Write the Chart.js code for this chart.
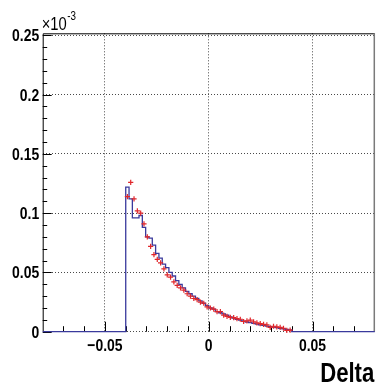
<!DOCTYPE html>
<html>
<head>
<meta charset="utf-8">
<script src="https://cdn.jsdelivr.net/npm/chart.js@4/dist/chart.umd.min.js"></script>
<style>
  html, body { margin: 0; padding: 0; background: #ffffff; }
  canvas { display: block; }
</style>
</head>
<body>
<canvas id="c" width="380" height="385"></canvas>
<script>
// Delta distribution, 50 bins from -0.04 to 0.04 (heights in units of 1e-3)
const binLow = -0.04;
const binWidth = 0.0016;

const simHeights = [
  0.122, 0.112, 0.096, 0.096, 0.098, 0.088, 0.080, 0.079, 0.073, 0.066,
  0.062, 0.057, 0.054, 0.050, 0.047, 0.043, 0.040, 0.037, 0.034, 0.032,
  0.030, 0.028, 0.026, 0.024, 0.022, 0.020, 0.019, 0.017, 0.016, 0.015,
  0.014, 0.0125, 0.0115, 0.0105, 0.0098, 0.0090, 0.0082, 0.0076, 0.0070, 0.0064,
  0.0058, 0.0053, 0.0047, 0.0042, 0.0038, 0.0034, 0.0029, 0.0025, 0.0020, 0.0015
];

const measHeights = [
  0.114, 0.126, 0.112, 0.102, 0.100, 0.091, 0.080, 0.072, 0.065, 0.061,
  0.058, 0.053, 0.048, 0.046, 0.042, 0.039, 0.037, 0.035, 0.032, 0.030,
  0.028, 0.027, 0.025, 0.024, 0.021, 0.020, 0.019, 0.017, 0.017, 0.014,
  0.013, 0.012, 0.0118, 0.0110, 0.0105, 0.0086, 0.0092, 0.0098, 0.0084, 0.0074,
  0.0068, 0.0062, 0.0057, 0.0036, 0.0046, 0.0040, 0.0037, 0.0029, 0.0012, 0.0014
];

const xRange = [-0.08, 0.08];
const yRange = [0, 0.2517];
const xTickValues = [-0.05, 0, 0.05];
const xTickLabels = ['\u22120.05', '0', '0.05'];
const yTickValues = [0, 0.05, 0.1, 0.15, 0.2, 0.25];
const yTickLabels = ['0', '0.05', '0.1', '0.15', '0.2', '0.25'];
const minorStep = 0.01;
const xTitle = 'Delta';

const FONT = "'Liberation Sans', Arial, sans-serif";
const NARROW = 0.82; // horizontal squeeze for the Helvetica-like labels

// Step outline: left edge of every bin, closed to zero at both ends,
// with the empty range drawn along the baseline.
const nBins = simHeights.length;
const outline = [{ x: xRange[0], y: 0 }];
for (let i = 0; i < nBins; i++) {
  outline.push({ x: binLow + i * binWidth, y: simHeights[i] });
}
outline.push({ x: binLow + nBins * binWidth, y: 0 });
outline.push({ x: xRange[1], y: 0 });

const markers = measHeights.map((v, i) => ({ x: binLow + (i + 0.5) * binWidth, y: v }));

function narrowText(ctx, text, x, y, align, font) {
  ctx.save();
  ctx.font = font;
  ctx.textAlign = align;
  ctx.textBaseline = 'alphabetic';
  ctx.translate(x, y);
  ctx.scale(NARROW, 1);
  ctx.fillText(text, 0, 0);
  const w = ctx.measureText(text).width * NARROW;
  ctx.restore();
  return w;
}

// Frame, inward ticks, labels and the axis multiplier
const framePlugin = {
  id: 'frame',
  beforeDatasetsDraw(chart) {
    const { ctx, chartArea: a, scales: { x, y } } = chart;
    ctx.save();
    ctx.lineWidth = 1;
    ctx.strokeStyle = '#000';
    ctx.beginPath();
    for (let k = -8; k <= 8; k++) {
      const v = k * minorStep;
      const major = (k % 5 === 0);
      const px = Math.round(x.getPixelForValue(v)) + 0.5;
      if (px < a.left + 1 || px > a.right - 1) continue;
      ctx.moveTo(px, a.bottom);
      ctx.lineTo(px, a.bottom - (major ? 10 : 5.5));
    }
    for (let k = 0; k <= 25; k++) {
      const v = k * minorStep;
      const major = (k % 5 === 0);
      const py = Math.round(y.getPixelForValue(v)) + 0.5;
      ctx.moveTo(a.left, py);
      ctx.lineTo(a.left + (major ? 9 : 4.5), py);
    }
    ctx.stroke();

    // left and top border
    ctx.beginPath();
    ctx.moveTo(a.left + 0.5, a.bottom);
    ctx.lineTo(a.left + 0.5, a.top + 0.5);
    ctx.lineTo(a.right, a.top + 0.5);
    ctx.stroke();
    // right border
    ctx.strokeStyle = '#7a7a7a';
    ctx.lineWidth = 1.5;
    ctx.beginPath();
    ctx.moveTo(a.right - 0.5, a.top);
    ctx.lineTo(a.right - 0.5, a.bottom);
    ctx.stroke();
    ctx.restore();
  },
  afterDraw(chart) {
    const { ctx, chartArea: a, scales: { x, y } } = chart;
    ctx.save();
    ctx.fillStyle = '#000';
    const tickFont = 'bold 17px ' + FONT;
    yTickValues.forEach((v, i) => {
      narrowText(ctx, yTickLabels[i], a.left - 3.5, y.getPixelForValue(v) + 6, 'right', tickFont);
    });
    xTickValues.forEach((v, i) => {
      narrowText(ctx, xTickLabels[i], x.getPixelForValue(v), a.bottom + 19.5, 'center', tickFont);
    });
    narrowText(ctx, xTitle, a.right - 0.5, 382, 'right', 'bold 27px ' + FONT);

    const w = narrowText(ctx, '\u00d710', a.left - 1, a.top - 3, 'left', '18px ' + FONT);
    narrowText(ctx, '-3', a.left - 1 + w + 0.5, a.top - 13, 'left', '12px ' + FONT);
    ctx.restore();
  }
};

new Chart(document.getElementById('c'), {
  type: 'line',
  data: {
    datasets: [
      {
        label: 'measured',
        data: markers,
        showLine: false,
        pointStyle: 'cross',
        pointRadius: 2.6,
        pointBorderWidth: 1.2,
        pointBorderColor: '#e0262b',
        pointBackgroundColor: '#e0262b',
        clip: false
      },
      {
        label: 'simulated',
        data: outline,
        stepped: 'before',
        borderColor: '#3a3a9c',
        borderWidth: 1.3,
        pointRadius: 0,
        fill: false,
        tension: 0,
        clip: false
      }
    ]
  },
  options: {
    responsive: false,
    animation: false,
    devicePixelRatio: 1,
    layout: { padding: { top: 33.3, right: 1, left: 0, bottom: 0 } },
    plugins: {
      legend: { display: false },
      tooltip: { enabled: false }
    },
    scales: {
      x: {
        type: 'linear',
        min: xRange[0],
        max: xRange[1],
        afterBuildTicks: (s) => { s.ticks = xTickValues.map(v => ({ value: v })); },
        afterFit: (s) => { s.height = 385 - 331.7; },
        ticks: { display: false },
        grid: { display: true, drawTicks: false, color: '#4a4a4a', lineWidth: 1 },
        border: { display: false, dash: [1, 2] },
        title: { display: false }
      },
      y: {
        type: 'linear',
        min: yRange[0],
        max: yRange[1],
        afterBuildTicks: (s) => { s.ticks = yTickValues.map(v => ({ value: v })); },
        afterFit: (s) => { s.width = 42.7; },
        ticks: { display: false },
        grid: { display: true, drawTicks: false, color: '#4a4a4a', lineWidth: 1 },
        border: { display: false, dash: [1, 2] }
      }
    }
  },
  plugins: [framePlugin]
});
</script>
</body>
</html>
